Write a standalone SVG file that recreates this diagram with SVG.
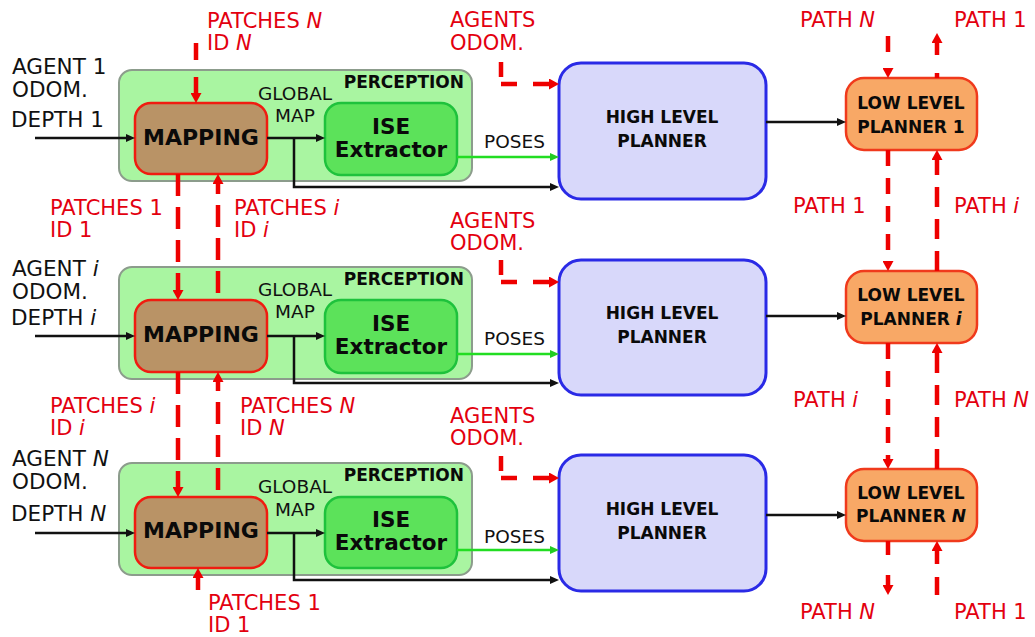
<svg xmlns="http://www.w3.org/2000/svg" width="1035" height="637" viewBox="0 0 1035 637">
<style>
text{font-family:"DejaVu Sans","Liberation Sans",sans-serif}
.r{fill:#e3000f;font-size:21px}
.k{fill:#111;font-size:21.5px}
.it{font-style:italic}
.perc{fill:#a9f5a1;stroke:#8c9c8c;stroke-width:2}
.map{fill:#b99366;stroke:#f01c10;stroke-width:2.5}
.ise{fill:#5ce25a;stroke:#1ec23c;stroke-width:2.5}
.hlp{fill:#d8d8fa;stroke:#2a2ae6;stroke-width:3}
.llp{fill:#f8a866;stroke:#f03a1c;stroke-width:2.5}
.bt{font-weight:bold;fill:#0a0a0a}
.bl{fill:none;stroke:#111;stroke-width:2.5}
.gr{fill:none;stroke:#22dd22;stroke-width:2.5}
.rd{fill:none;stroke:#ee0000;stroke-width:4.5}
</style>
<defs>
<marker id="ak" markerUnits="userSpaceOnUse" markerWidth="9" markerHeight="8" refX="0" refY="4" orient="auto"><path d="M0,0 L9,4 L0,8 z" fill="#111"/></marker>
<marker id="ag" markerUnits="userSpaceOnUse" markerWidth="9" markerHeight="8" refX="0" refY="4" orient="auto"><path d="M0,0 L9,4 L0,8 z" fill="#22cc22"/></marker>
<marker id="ar" markerUnits="userSpaceOnUse" markerWidth="10" markerHeight="11" refX="0" refY="5.5" orient="auto"><path d="M0,0 L10,5.5 L0,11 z" fill="#ee0000"/></marker>
</defs>

<!-- Row 1 -->
<g id="perception1"><rect class="perc" x="119" y="70" width="353" height="111" rx="13"/><text class="bt" x="464" y="88" font-size="17" text-anchor="end">PERCEPTION</text><text x="295" y="100" font-size="18.5" fill="#111" text-anchor="middle">GLOBAL</text><text x="295" y="122" font-size="18.5" fill="#111" text-anchor="middle">MAP</text></g>
<g id="mapping1"><rect class="map" x="135" y="103" width="132" height="71" rx="16"/><text class="bt" x="201" y="145" font-size="22" text-anchor="middle">MAPPING</text></g>
<g id="ise1"><rect class="ise" x="325" y="103" width="132" height="72" rx="16"/><text class="bt" x="391" y="134" font-size="21.5" text-anchor="middle">ISE</text><text class="bt" x="391" y="157" font-size="21.5" text-anchor="middle">Extractor</text></g>
<g id="hlp1"><rect class="hlp" x="559" y="63" width="207" height="136" rx="22"/><text class="bt" x="662" y="123" font-size="17" text-anchor="middle">HIGH LEVEL</text><text class="bt" x="662" y="147" font-size="17" text-anchor="middle">PLANNER</text></g>
<g id="llp1"><rect class="llp" x="846" y="78" width="131" height="72" rx="18"/><text class="bt" x="911" y="109" font-size="17" text-anchor="middle">LOW LEVEL</text><text class="bt" x="911" y="133" font-size="17" text-anchor="middle">PLANNER 1</text></g>

<!-- Row 2 -->
<g id="perception2"><rect class="perc" x="119" y="267" width="353" height="112" rx="13"/><text class="bt" x="464" y="285" font-size="17" text-anchor="end">PERCEPTION</text><text x="295" y="296" font-size="18.5" fill="#111" text-anchor="middle">GLOBAL</text><text x="295" y="318" font-size="18.5" fill="#111" text-anchor="middle">MAP</text></g>
<g id="mapping2"><rect class="map" x="135" y="300" width="132" height="72" rx="16"/><text class="bt" x="201" y="342" font-size="22" text-anchor="middle">MAPPING</text></g>
<g id="ise2"><rect class="ise" x="325" y="300" width="132" height="73" rx="16"/><text class="bt" x="391" y="331" font-size="21.5" text-anchor="middle">ISE</text><text class="bt" x="391" y="354" font-size="21.5" text-anchor="middle">Extractor</text></g>
<g id="hlp2"><rect class="hlp" x="559" y="260" width="207" height="135" rx="22"/><text class="bt" x="662" y="319" font-size="17" text-anchor="middle">HIGH LEVEL</text><text class="bt" x="662" y="343" font-size="17" text-anchor="middle">PLANNER</text></g>
<g id="llp2"><rect class="llp" x="846" y="271" width="131" height="72" rx="18"/><text class="bt" x="911" y="301" font-size="17" text-anchor="middle">LOW LEVEL</text><text class="bt" x="911" y="325" font-size="17" text-anchor="middle">PLANNER <tspan class="it">i</tspan></text></g>

<!-- Row 3 -->
<g id="perception3"><rect class="perc" x="119" y="463" width="353" height="112" rx="13"/><text class="bt" x="464" y="481" font-size="17" text-anchor="end">PERCEPTION</text><text x="295" y="493" font-size="18.5" fill="#111" text-anchor="middle">GLOBAL</text><text x="295" y="516" font-size="18.5" fill="#111" text-anchor="middle">MAP</text></g>
<g id="mapping3"><rect class="map" x="135" y="497" width="132" height="71" rx="16"/><text class="bt" x="201" y="538" font-size="22" text-anchor="middle">MAPPING</text></g>
<g id="ise3"><rect class="ise" x="325" y="497" width="132" height="71" rx="16"/><text class="bt" x="391" y="527" font-size="21.5" text-anchor="middle">ISE</text><text class="bt" x="391" y="550" font-size="21.5" text-anchor="middle">Extractor</text></g>
<g id="hlp3"><rect class="hlp" x="559" y="455" width="207" height="136" rx="22"/><text class="bt" x="662" y="515" font-size="17" text-anchor="middle">HIGH LEVEL</text><text class="bt" x="662" y="539" font-size="17" text-anchor="middle">PLANNER</text></g>
<g id="llp3"><rect class="llp" x="846" y="469" width="131" height="72" rx="18"/><text class="bt" x="911" y="499" font-size="17" text-anchor="middle">LOW LEVEL</text><text class="bt" x="911" y="522" font-size="17" text-anchor="middle">PLANNER <tspan class="it">N</tspan></text></g>

<g id="connectors">
<path class="bl" d="M35,138 H126" marker-end="url(#ak)"/>
<path class="bl" d="M35,336 H126" marker-end="url(#ak)"/>
<path class="bl" d="M35,533 H126" marker-end="url(#ak)"/>
<path class="bl" d="M267,138 H316" marker-end="url(#ak)"/>
<path class="bl" d="M294,138 V187 H550" marker-end="url(#ak)"/>
<path class="bl" d="M267,336 H316" marker-end="url(#ak)"/>
<path class="bl" d="M294,336 V383 H550" marker-end="url(#ak)"/>
<path class="bl" d="M267,533 H316" marker-end="url(#ak)"/>
<path class="bl" d="M294,533 V580 H550" marker-end="url(#ak)"/>
<path class="gr" d="M457,157 H550" marker-end="url(#ag)"/>
<path class="gr" d="M457,354 H550" marker-end="url(#ag)"/>
<path class="gr" d="M457,550 H550" marker-end="url(#ag)"/>
<path class="bl" d="M766,122 H837" marker-end="url(#ak)"/>
<path class="bl" d="M766,316 H837" marker-end="url(#ak)"/>
<path class="bl" d="M766,515 H837" marker-end="url(#ak)"/>
<path class="rd" d="M501,62 V84 H549" stroke-dasharray="15 7 16 16 17 100" marker-end="url(#ar)"/>
<path class="rd" d="M501,260 V282 H549" stroke-dasharray="15 7 16 16 17 100" marker-end="url(#ar)"/>
<path class="rd" d="M501,456 V478 H549" stroke-dasharray="15 7 16 16 17 100" marker-end="url(#ar)"/>
<path class="rd" d="M196,43 V93" stroke-dasharray="17 17" marker-end="url(#ar)"/>
<path class="rd" d="M178,174 V290" stroke-dasharray="22 11" marker-end="url(#ar)"/>
<path class="rd" d="M218,293 V184" stroke-dasharray="22 11" marker-end="url(#ar)"/>
<path class="rd" d="M178,372 V487" stroke-dasharray="22 11" marker-end="url(#ar)"/>
<path class="rd" d="M218,490 V382" stroke-dasharray="22 11" marker-end="url(#ar)"/>
<path class="rd" d="M198,590 V578" marker-end="url(#ar)"/>
<path class="rd" d="M888,36 V68" stroke-dasharray="16 16" marker-end="url(#ar)"/>
<path class="rd" d="M937,78 V43" stroke-dasharray="5 18 20" marker-end="url(#ar)"/>
<path class="rd" d="M888,150 V261" stroke-dasharray="16 12" marker-end="url(#ar)"/>
<path class="rd" d="M937,271 V160" stroke-dasharray="20 12" marker-end="url(#ar)"/>
<path class="rd" d="M888,343 V459" stroke-dasharray="16 12" marker-end="url(#ar)"/>
<path class="rd" d="M937,469 V353" stroke-dasharray="20 12" marker-end="url(#ar)"/>
<path class="rd" d="M888,541 V585" stroke-dasharray="14 20" marker-end="url(#ar)"/>
<path class="rd" d="M937,595 V551" stroke-dasharray="18 13" marker-end="url(#ar)"/>
</g>

<g id="labels">
<text class="k" x="12" y="74">AGENT 1</text>
<text class="k" x="12" y="97">ODOM.</text>
<text class="k" x="11" y="127">DEPTH 1</text>
<text class="k" x="12" y="276">AGENT <tspan class="it">i</tspan></text>
<text class="k" x="12" y="299">ODOM.</text>
<text class="k" x="11" y="325">DEPTH <tspan class="it">i</tspan></text>
<text class="k" x="12" y="466">AGENT <tspan class="it">N</tspan></text>
<text class="k" x="12" y="489">ODOM.</text>
<text class="k" x="11" y="521">DEPTH <tspan class="it">N</tspan></text>
<text x="545" y="148" font-size="18.5" fill="#111" text-anchor="end">POSES</text>
<text x="545" y="345" font-size="18.5" fill="#111" text-anchor="end">POSES</text>
<text x="545" y="543" font-size="18.5" fill="#111" text-anchor="end">POSES</text>

<text class="r" x="207" y="28">PATCHES <tspan class="it">N</tspan></text>
<text class="r" x="207" y="50">ID <tspan class="it">N</tspan></text>
<text class="r" x="50" y="215">PATCHES 1</text>
<text class="r" x="50" y="237">ID 1</text>
<text class="r" x="234" y="215">PATCHES <tspan class="it">i</tspan></text>
<text class="r" x="234" y="237">ID <tspan class="it">i</tspan></text>
<text class="r" x="50" y="413">PATCHES <tspan class="it">i</tspan></text>
<text class="r" x="50" y="435">ID <tspan class="it">i</tspan></text>
<text class="r" x="240" y="413">PATCHES <tspan class="it">N</tspan></text>
<text class="r" x="240" y="435">ID <tspan class="it">N</tspan></text>
<text class="r" x="208" y="610">PATCHES 1</text>
<text class="r" x="208" y="632">ID 1</text>

<text class="r" x="450" y="27">AGENTS</text>
<text class="r" x="450" y="50">ODOM.</text>
<text class="r" x="450" y="228">AGENTS</text>
<text class="r" x="450" y="250">ODOM.</text>
<text class="r" x="450" y="423">AGENTS</text>
<text class="r" x="450" y="445">ODOM.</text>

<text class="r" x="800" y="27">PATH <tspan class="it">N</tspan></text>
<text class="r" x="954" y="27">PATH 1</text>
<text class="r" x="793" y="213">PATH 1</text>
<text class="r" x="954" y="213">PATH <tspan class="it">i</tspan></text>
<text class="r" x="793" y="407">PATH <tspan class="it">i</tspan></text>
<text class="r" x="954" y="407">PATH <tspan class="it">N</tspan></text>
<text class="r" x="800" y="619">PATH <tspan class="it">N</tspan></text>
<text class="r" x="954" y="619">PATH 1</text>
</g>
</svg>
